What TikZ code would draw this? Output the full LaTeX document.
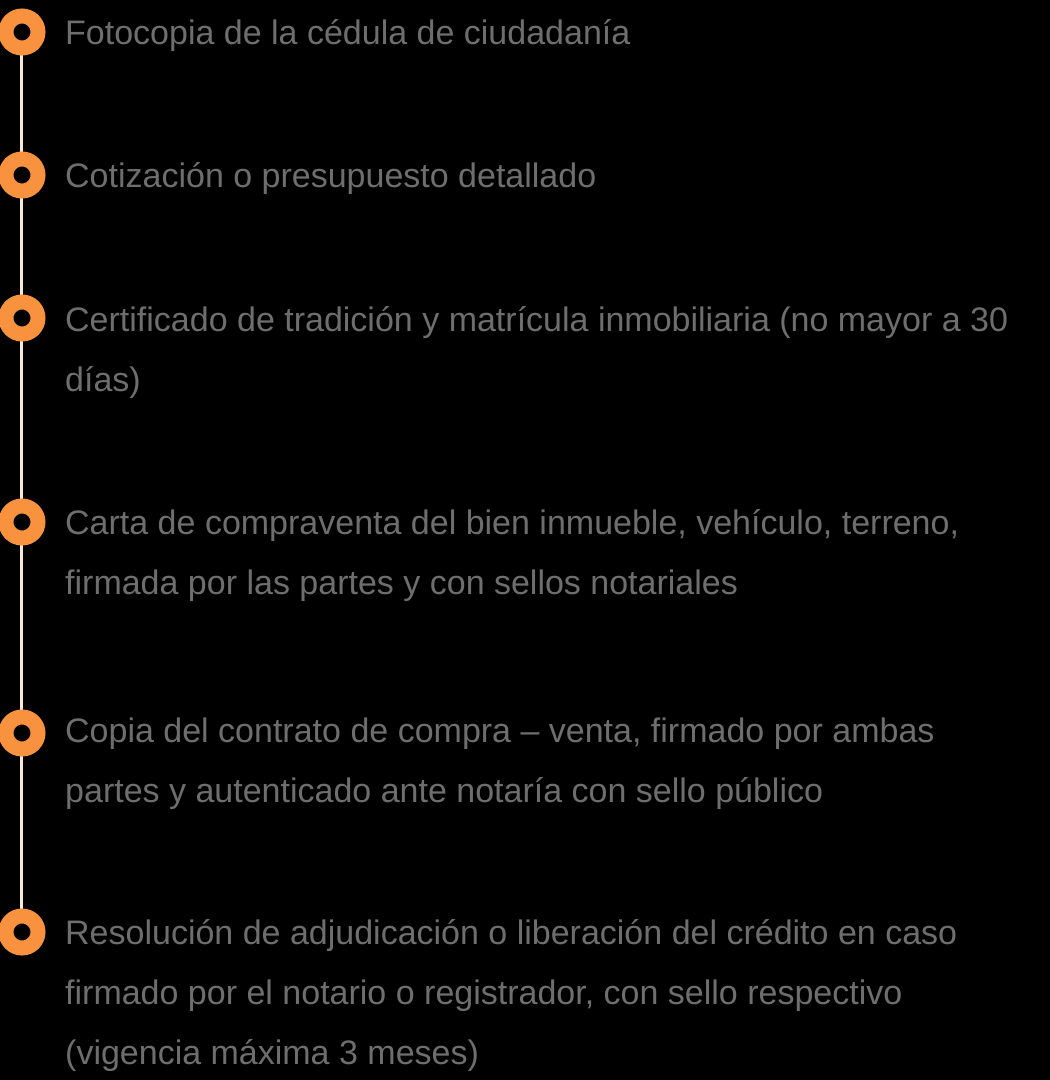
\documentclass[tikz,border=0pt]{standalone}
\usepackage{fontspec}
\setmainfont{Liberation Sans}
\definecolor{ringorange}{HTML}{F8923E}
\definecolor{linepeach}{HTML}{F7E6DA}
\definecolor{textgray}{HTML}{6E6E6E}
\begin{document}
\begin{tikzpicture}[x=1pt,y=-1pt,
  ring/.style={circle,draw=ringorange,line width=15pt,fill=black,minimum size=32pt,inner sep=0pt},
  itemtext/.style={anchor=base west,inner sep=0pt,text=textgray,align=left,
    font=\fontsize{34}{60}\selectfont}]
\fill[black] (0,0) rectangle (1050,1080);
\useasboundingbox (0,0) rectangle (1050,1080);
\coordinate (top) at (21,32);
\coordinate (bot) at (21,932);
\draw[linepeach,line width=3pt] (top) -- (bot);
\node[ring] (c1) at (22,32) {};
\node[ring] (c2) at (22,175) {};
\node[ring] (c3) at (22,318) {};
\node[ring] (c4) at (22,522) {};
\node[ring] (c5) at (22,733) {};
\node[ring] (c6) at (22,932) {};
\node[itemtext] (t1) at (65,44) {Fotocopia de la cédula de ciudadanía};
\node[itemtext] (t2) at (65,187) {Cotización o presupuesto detallado};
\node[itemtext] (t3) at (65,391) {Certificado de tradición y matrícula inmobiliaria (no mayor a 30\\días)};
\node[itemtext] (t4) at (65,594) {Carta de compraventa del bien inmueble, vehículo, terreno,\\firmada por las partes y con sellos notariales};
\node[itemtext] (t5) at (65,802) {Copia del contrato de compra – venta, firmado por ambas\\partes y autenticado ante notaría con sello público};
\node[itemtext] (t6) at (65,1064) {Resolución de adjudicación o liberación del crédito en caso\\firmado por el notario o registrador, con sello respectivo\\(vigencia máxima 3 meses)};
\end{tikzpicture}
\end{document}
